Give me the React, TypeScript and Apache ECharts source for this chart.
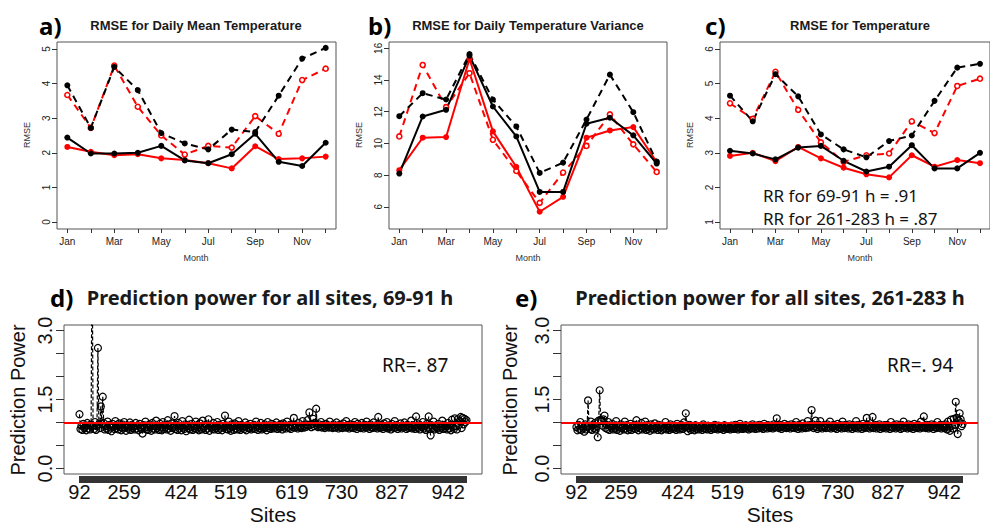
import React, { useEffect, useRef } from 'react';
import * as echarts from 'echarts';

// ---------- top panels: monthly RMSE ----------
const months = ['Jan', 'Feb', 'Mar', 'Apr', 'May', 'Jun', 'Jul', 'Aug', 'Sep', 'Oct', 'Nov', 'Dec'];
const monthLabelIdx = [0, 2, 4, 6, 8, 10];

// a) Daily mean temperature
const aBlackSolid = [2.44, 1.98, 1.98, 2.0, 2.2, 1.78, 1.7, 1.96, 2.55, 1.74, 1.62, 2.29];
const aBlackDashed = [3.95, 2.72, 4.48, 3.81, 2.57, 2.27, 2.1, 2.67, 2.6, 3.65, 4.72, 5.03];
const aRedSolid = [2.17, 2.03, 1.93, 1.96, 1.84, 1.79, 1.7, 1.55, 2.19, 1.82, 1.84, 1.89];
const aRedDashed = [3.67, 2.72, 4.52, 3.33, 2.5, 1.95, 2.2, 2.15, 3.06, 2.55, 4.1, 4.43];
const aTicks = [0, 1, 2, 3, 4, 5];

// b) Daily temperature variance
const bBlackSolid = [8.1, 11.7, 12.12, 15.54, 12.33, 10.44, 6.94, 6.94, 11.24, 11.62, 10.51, 8.73];
const bBlackDashed = [11.72, 13.17, 12.77, 15.64, 12.77, 11.07, 8.14, 8.79, 11.51, 14.34, 11.97, 8.85];
const bRedSolid = [8.31, 10.36, 10.4, 15.33, 10.76, 8.52, 5.69, 6.63, 10.36, 10.82, 11.03, 8.83];
const bRedDashed = [10.44, 14.95, 12.29, 14.43, 10.23, 8.26, 6.25, 8.16, 9.84, 11.83, 9.94, 8.2];
const bTicks = [6, 8, 10, 12, 14, 16];

// c) Temperature
const cBlackSolid = [3.06, 2.98, 2.81, 3.15, 3.2, 2.77, 2.46, 2.6, 3.22, 2.55, 2.55, 3.0];
const cBlackDashed = [4.65, 3.91, 5.27, 4.63, 3.53, 3.1, 2.87, 3.34, 3.5, 4.5, 5.46, 5.57];
const cRedSolid = [2.91, 3.0, 2.76, 3.17, 2.84, 2.57, 2.38, 2.29, 2.93, 2.6, 2.79, 2.7];
const cRedDashed = [4.43, 3.98, 5.34, 4.24, 3.3, 2.74, 2.93, 2.98, 3.91, 3.57, 4.93, 5.14];
const cTicks = [1, 2, 3, 4, 5, 6];

// ---------- bottom panels: prediction power per site ----------
const siteLabels = ['92', '259', '424', '519', '619', '730', '827', '942'];
const siteLabelIndex = [0, 46, 105, 156, 219, 270, 322, 380];
const ppTicks = [0, 0.5, 1, 1.5, 2, 2.5, 3];
const ppLabelTicks = [0, 1.5, 3];

// d) 69-91 h
const ppD = [
  1.18, 0.86, 0.93, 0.84, 0.97, 0.88, 0.91, 0.83, 0.99, 0.87, 0.94, 0.85, 0.95, 5.20, 0.93, 0.86, 1.01, 0.84, 0.92, 2.62,
  0.96, 0.88, 1.35, 0.97, 1.56, 0.99, 0.85, 0.92, 0.87, 1.02, 0.84, 0.95, 0.89, 0.81, 0.97, 0.90, 0.86, 1.03, 0.88, 0.93,
  0.85, 0.98, 0.90, 0.83, 0.96, 0.87, 1.01, 0.89, 0.82, 0.94, 0.91, 0.86, 1.00, 0.84, 0.95, 0.88, 0.92, 0.85, 0.99, 0.87,
  0.93, 0.83, 0.97, 0.89, 0.86, 0.76, 0.94, 0.88, 1.02, 0.85, 0.91, 0.84, 0.96, 0.90, 0.82, 0.99, 0.87, 0.93, 0.85, 1.04,
  0.88, 0.92, 0.84, 0.97, 0.89, 0.83, 1.01, 0.86, 0.94, 0.90, 0.85, 1.05, 0.87, 0.93, 0.82, 0.98, 0.88, 0.91, 1.14, 0.86,
  0.95, 0.84, 0.99, 0.87, 0.92, 0.83, 1.03, 0.89, 0.86, 0.96, 0.81, 0.93, 0.88, 1.06, 0.85, 0.90, 0.97, 0.84, 0.92, 0.87,
  1.02, 0.86, 0.94, 0.83, 0.98, 0.89, 0.85, 1.04, 0.88, 0.91, 0.84, 0.96, 0.87, 1.07, 0.82, 0.93, 0.90, 0.86, 0.99, 0.85,
  0.92, 0.88, 1.01, 0.84, 0.95, 0.87, 0.91, 0.83, 0.97, 0.89, 1.15, 0.86, 0.93, 0.85, 1.02, 0.88, 0.82, 0.96, 0.90, 0.84,
  0.98, 0.87, 0.93, 0.85, 1.03, 0.89, 0.84, 0.95, 0.88, 0.92, 0.86, 1.00, 0.83, 0.94, 0.89, 0.87, 0.97, 0.85, 0.91, 0.88,
  0.95, 0.86, 1.02, 0.90, 0.84, 0.93, 0.88, 0.99, 0.85, 0.91, 0.87, 0.96, 0.89, 0.83, 1.01, 0.88, 0.92, 0.86, 0.97, 0.90,
  0.87, 0.94, 0.89, 1.00, 0.86, 0.92, 0.88, 0.96, 0.90, 0.85, 0.98, 0.89, 0.93, 0.87, 1.02, 0.91, 0.88, 0.95, 0.86, 0.93,
  0.90, 1.10, 0.89, 0.94, 0.91, 0.87, 0.99, 0.90, 0.93, 0.88, 1.03, 0.92, 0.89, 0.96, 0.91, 1.05, 0.93, 1.22, 0.95, 0.90,
  0.97, 1.08, 0.92, 0.99, 1.30, 0.94, 0.90, 0.96, 0.91, 1.01, 0.89, 0.95, 0.92, 0.88, 0.97, 0.91, 0.94, 0.89, 1.02, 0.90,
  0.93, 0.88, 0.96, 0.91, 0.89, 1.00, 0.92, 0.87, 0.95, 0.90, 0.93, 0.88, 0.98, 0.91, 0.89, 1.03, 0.90, 0.94, 0.87, 0.96,
  0.91, 0.89, 0.95, 0.88, 1.01, 0.92, 0.86, 0.97, 0.90, 0.93, 0.88, 0.99, 0.91, 0.87, 0.95, 0.90, 1.02, 0.89, 0.93, 0.86,
  0.96, 0.90, 0.88, 1.00, 0.92, 0.89, 0.94, 0.87, 1.12, 0.91, 0.88, 0.95, 0.90, 0.86, 0.98, 0.92, 0.89, 1.01, 0.87, 0.93,
  0.90, 0.85, 0.97, 0.91, 0.88, 1.03, 0.89, 0.94, 0.86, 0.92, 0.90, 0.98, 0.87, 0.93, 0.89, 1.00, 0.91, 0.86, 0.95, 0.88,
  0.92, 0.89, 1.04, 0.87, 0.94, 0.90, 0.86, 1.13, 0.91, 0.88, 0.96, 0.85, 0.93, 0.90, 1.01, 0.87, 0.92, 0.84, 0.97, 0.89,
  1.13, 0.86, 0.72, 0.94, 0.88, 1.02, 0.85, 0.93, 0.90, 0.87, 0.97, 0.84, 0.91, 0.89, 1.04, 0.86, 0.95, 0.88, 0.92, 0.85,
  0.99, 0.87, 0.94, 0.83, 1.06, 0.90, 0.86, 1.09, 0.92, 0.85, 1.07, 0.94, 1.03, 1.12, 0.88, 1.10, 0.96, 1.08, 1.01, 1.05,
];

// e) 261-283 h
const ppE = [
  0.90, 0.83, 0.95, 0.86, 1.01, 0.84, 0.92, 0.87, 0.80, 0.96, 0.85, 0.91, 1.48, 0.93, 0.86, 1.02, 0.84, 0.94, 0.88, 0.99,
  0.85, 0.92, 0.68, 1.04, 1.70, 1.06, 1.03, 0.93, 1.07, 1.15, 0.88, 0.95, 0.86, 1.01, 0.84, 0.92, 0.89, 0.97, 0.85, 0.91,
  0.87, 1.03, 0.84, 0.93, 0.89, 0.82, 0.96, 0.88, 0.91, 0.85, 1.02, 0.87, 0.94, 0.83, 0.90, 0.86, 0.97, 0.84, 0.92, 0.88,
  0.95, 0.86, 1.05, 0.89, 0.83, 0.93, 0.87, 0.99, 0.85, 0.91, 0.88, 1.02, 0.84, 0.94, 0.86, 0.90, 0.82, 0.96, 0.87, 0.92,
  0.85, 0.98, 0.88, 0.91, 0.84, 0.95, 0.87, 0.90, 0.83, 0.93, 0.86, 0.89, 1.01, 0.85, 0.92, 0.88, 0.84, 0.96, 0.87, 0.90,
  0.86, 0.93, 0.89, 0.84, 0.97, 0.87, 0.91, 0.85, 0.88, 0.94, 0.86, 1.00, 0.90, 1.20, 0.92, 0.81, 0.88, 0.95, 0.84, 0.91,
  0.87, 0.90, 0.83, 0.94, 0.86, 0.89, 0.85, 0.92, 0.87, 0.90, 0.84, 0.96, 0.88, 0.86, 0.91, 0.85, 0.93, 0.87, 0.89, 0.84,
  0.92, 0.88, 0.86, 0.95, 0.87, 0.90, 0.85, 0.93, 0.88, 0.86, 0.91, 0.89, 0.84, 0.94, 0.87, 0.90, 0.86, 0.92, 0.88, 0.85,
  0.93, 0.87, 0.90, 0.86, 0.95, 0.88, 0.91, 0.85, 0.89, 0.97, 0.87, 0.92, 0.86, 0.90, 0.88, 0.94, 0.87, 0.91, 0.85, 0.93,
  0.89, 0.87, 0.96, 0.88, 0.91, 0.86, 0.93, 0.89, 0.87, 0.95, 0.90, 0.88, 0.92, 0.86, 0.97, 0.89, 0.91, 0.87, 0.94, 0.90,
  0.88, 0.93, 0.90, 0.87, 0.96, 0.89, 0.91, 1.09, 0.92, 0.88, 0.95, 0.90, 0.86, 0.93, 0.89, 0.97, 0.91, 0.88, 0.94, 0.90,
  0.92, 0.87, 0.96, 0.90, 0.89, 0.94, 0.88, 1.01, 0.91, 0.86, 0.95, 0.89, 0.92, 0.87, 0.98, 0.90, 0.93, 0.88, 0.91, 1.03,
  0.89, 0.94, 0.91, 1.27, 0.96, 0.88, 0.92, 1.04, 0.90, 0.86, 0.95, 0.89, 1.03, 0.91, 0.87, 0.94, 0.90, 0.92, 0.88, 0.96,
  0.91, 0.89, 1.02, 0.87, 0.93, 0.90, 0.95, 0.88, 0.92, 0.86, 0.97, 0.90, 0.89, 0.94, 0.87, 1.02, 0.91, 0.88, 0.95, 0.90,
  0.93, 0.87, 0.96, 0.89, 0.91, 0.86, 0.94, 0.90, 0.88, 1.03, 0.92, 0.87, 0.95, 0.89, 0.91, 0.86, 0.97, 0.90, 0.88, 0.93,
  1.10, 0.89, 0.94, 0.87, 0.92, 0.90, 1.12, 0.88, 0.95, 0.91, 0.87, 0.93, 0.89, 0.96, 0.86, 0.92, 0.90, 0.88, 0.94, 0.91,
  0.87, 0.95, 0.89, 0.92, 0.86, 1.01, 0.90, 0.88, 0.94, 0.91, 0.87, 0.96, 0.89, 0.93, 0.90, 0.86, 0.95, 0.88, 1.02, 0.91,
  0.89, 0.93, 0.87, 0.96, 0.90, 0.88, 0.94, 0.91, 0.86, 0.97, 0.89, 0.92, 0.88, 0.95, 0.90, 0.87, 1.02, 0.91, 0.89, 1.13,
  0.92, 0.88, 0.95, 0.90, 0.87, 0.93, 0.89, 0.96, 0.91, 0.86, 0.94, 0.90, 0.88, 1.01, 0.92, 0.89, 0.95, 0.87, 0.93, 0.90,
  0.88, 0.96, 0.91, 0.85, 1.02, 0.89, 0.82, 1.06, 0.93, 0.87, 1.08, 0.95, 1.45, 1.10, 0.75, 1.04, 1.20, 1.07, 0.92, 0.97,
];

const SANS = '"Liberation Sans", Arial, sans-serif';
const KSANS = '"Noto Sans", "Noto Sans CJK KR", sans-serif';
const INK = '#1a1a1a';

function buildOption() {
  const monthIdx = months.map((_, i) => i);

  const topGrids = [
    { left: 57, top: 42, width: 279, height: 187 },
    { left: 389, top: 42, width: 278, height: 187 },
    { left: 720, top: 42, width: 279, height: 187 },
  ];
  const botGrids = [
    { left: 64, top: 325, width: 418, height: 149 },
    { left: 561, top: 325, width: 417, height: 149 },
  ];
  const grids = [...topGrids, ...botGrids].map((g) => ({
    ...g,
    show: true,
    borderColor: '#555',
    borderWidth: 1,
    backgroundColor: 'transparent',
  }));

  const topRanges = [
    { min: -0.2, max: 5.2, ticks: aTicks },
    { min: 4.6, max: 16.4, ticks: bTicks },
    { min: 0.8, max: 6.2, ticks: cTicks },
  ];

  const xAxes: any[] = [];
  const yAxes: any[] = [];
  topRanges.forEach((r, gi) => {
    xAxes.push({
      type: 'value',
      gridIndex: gi,
      min: -0.44,
      max: 11.44,
      axisLine: { show: false, onZero: false },
      splitLine: { show: false },
      axisTick: { show: true, customValues: monthIdx, length: 4, lineStyle: { color: '#333', width: 1 } },
      axisLabel: {
        customValues: monthLabelIdx,
        formatter: (v: number) => months[Math.round(v)],
        fontSize: 10,
        fontFamily: SANS,
        color: '#222',
        margin: 7,
      },
    });
    yAxes.push({
      type: 'value',
      gridIndex: gi,
      min: r.min,
      max: r.max,
      axisLine: { show: false, onZero: false },
      splitLine: { show: false },
      axisTick: { show: true, customValues: r.ticks, length: 5, lineStyle: { color: '#333', width: 1 } },
      axisLabel: {
        customValues: r.ticks,
        rotate: 90,
        fontSize: 10,
        fontFamily: SANS,
        color: '#222',
        margin: 6,
      },
    });
  });

  [ppD, ppE].forEach((arr, k) => {
    const gi = 3 + k;
    const n = arr.length;
    xAxes.push({
      type: 'value',
      gridIndex: gi,
      min: -0.04 * (n - 1),
      max: 1.04 * (n - 1),
      offset: 2,
      axisLine: { show: false, onZero: false },
      splitLine: { show: false },
      axisTick: { show: true, customValues: arr.map((_, i) => i), length: 7, lineStyle: { color: '#333', width: 1 } },
      axisLabel: {
        customValues: siteLabelIndex,
        formatter: (v: number) => siteLabels[siteLabelIndex.indexOf(Math.round(v))] ?? '',
        fontSize: 20,
        fontFamily: SANS,
        color: '#111',
        margin: 6,
      },
    });
    yAxes.push({
      type: 'value',
      gridIndex: gi,
      min: -0.12,
      max: 3.12,
      axisLine: { show: false, onZero: false },
      splitLine: { show: false },
      axisTick: { show: true, customValues: ppTicks, length: 8, lineStyle: { color: '#333', width: 1 } },
      axisLabel: {
        customValues: ppLabelTicks,
        formatter: (v: number) => v.toFixed(1),
        rotate: 90,
        fontSize: 20,
        fontFamily: SANS,
        color: '#111',
        margin: 9,
      },
    });
  });

  const series: any[] = [];
  const topSets = [
    [aRedDashed, aRedSolid, aBlackDashed, aBlackSolid],
    [bRedDashed, bRedSolid, bBlackDashed, bBlackSolid],
    [cRedDashed, cRedSolid, cBlackDashed, cBlackSolid],
  ];
  const styles = [
    { color: '#ff0000', dashed: true, hollow: true },
    { color: '#ff0000', dashed: false, hollow: false },
    { color: '#000000', dashed: true, hollow: false },
    { color: '#000000', dashed: false, hollow: false },
  ];
  topSets.forEach((set, gi) => {
    set.forEach((vals, si) => {
      const st = styles[si];
      series.push({
        type: 'line',
        xAxisIndex: gi,
        yAxisIndex: gi,
        data: vals.map((v, i) => [i, v]),
        symbol: 'circle',
        symbolSize: st.hollow ? 5 : 6,
        showAllSymbol: true,
        lineStyle: { color: st.color, width: 2, type: st.dashed ? [7, 5] : 'solid' },
        itemStyle: st.hollow
          ? { color: '#fff', borderColor: st.color, borderWidth: 1.6 }
          : { color: st.color, borderColor: st.color, borderWidth: 0 },
        silent: true,
      });
    });
  });

  [ppD, ppE].forEach((arr, k) => {
    const gi = 3 + k;
    series.push({
      type: 'line',
      xAxisIndex: gi,
      yAxisIndex: gi,
      data: arr.map((v, i) => [i, v]),
      symbol: 'circle',
      symbolSize: 7,
      showAllSymbol: true,
      clip: true,
      lineStyle: { color: '#000', width: 1.2, type: [4, 2] },
      itemStyle: { color: 'rgba(0,0,0,0)', borderColor: '#000', borderWidth: 1.2 },
      silent: true,
      markLine: {
        silent: true,
        symbol: 'none',
        label: { show: false },
        lineStyle: { color: '#ff0000', width: 2, type: 'solid' },
        data: [{ yAxis: 1 }],
      },
    });
  });

  const txt = (x: number, y: number, text: string, font: string, align = 'center', rotation = 0, fill = INK) => ({
    type: 'text',
    x,
    y,
    rotation,
    silent: true,
    style: {
      text,
      font,
      fill,
      align,
      verticalAlign: 'middle',
      textAlign: align,
      textVerticalAlign: 'middle',
    },
  });

  const graphic: any[] = [
    // top panel labels and titles
    txt(39, 25, 'a)', `bold 24px ${KSANS}`, 'left', 0, '#000'),
    txt(196, 25, 'RMSE for Daily Mean Temperature', `bold 13px ${SANS}`),
    txt(368, 25, 'b)', `bold 24px ${KSANS}`, 'left', 0, '#000'),
    txt(528, 25, 'RMSE for Daily Temperature Variance', `bold 13px ${SANS}`),
    txt(705, 25, 'c)', `bold 24px ${KSANS}`, 'left', 0, '#000'),
    txt(860, 25, 'RMSE for Temperature', `bold 13px ${SANS}`),
    txt(196, 258, 'Month', `9px ${SANS}`, 'center', 0, '#333'),
    txt(528, 258, 'Month', `9px ${SANS}`, 'center', 0, '#333'),
    txt(860, 258, 'Month', `9px ${SANS}`, 'center', 0, '#333'),
    txt(27, 135, 'RMSE', `9px ${SANS}`, 'center', Math.PI / 2, '#333'),
    txt(359, 135, 'RMSE', `9px ${SANS}`, 'center', Math.PI / 2, '#333'),
    txt(690, 135, 'RMSE', `9px ${SANS}`, 'center', Math.PI / 2, '#333'),
    txt(763, 195, 'RR for 69-91 h = .91', `17px ${KSANS}`, 'left', 0, '#111'),
    txt(763, 218, 'RR for 261-283 h = .87', `17px ${KSANS}`, 'left', 0, '#111'),
    // bottom panels
    txt(50, 297, 'd)', `bold 24px ${KSANS}`, 'left', 0, '#000'),
    txt(270, 297, 'Prediction power for all sites, 69-91 h', `bold 20px ${KSANS}`),
    txt(515, 297, 'e)', `bold 24px ${KSANS}`, 'left', 0, '#000'),
    txt(770, 297, 'Prediction power for all sites, 261-283 h', `bold 20px ${KSANS}`),
    txt(273, 514, 'Sites', `21px ${SANS}`, 'center', 0, '#111'),
    txt(770, 514, 'Sites', `21px ${SANS}`, 'center', 0, '#111'),
    txt(18, 400, 'Prediction Power', `20px ${SANS}`, 'center', Math.PI / 2, '#111'),
    txt(510, 400, 'Prediction Power', `20px ${SANS}`, 'center', Math.PI / 2, '#111'),
    txt(382, 365, 'RR=. 87', `19px ${KSANS}`, 'left', 0, '#111'),
    txt(887, 365, 'RR=. 94', `19px ${KSANS}`, 'left', 0, '#111'),
  ];

  return {
    animation: false,
    backgroundColor: '#ffffff',
    grid: grids,
    xAxis: xAxes,
    yAxis: yAxes,
    series,
    graphic,
  };
}

export default function App() {
  const ref = useRef<HTMLDivElement>(null);
  useEffect(() => {
    if (!ref.current) return;
    const chart = echarts.init(ref.current, null, { renderer: 'svg' });
    chart.setOption(buildOption() as any);
    return () => {
      chart.dispose();
    };
  }, []);
  return (
    <div
      ref={ref}
      style={{ position: 'absolute', left: 0, top: 0, width: 990, height: 527, background: '#fff', overflow: 'hidden' }}
    />
  );
}
